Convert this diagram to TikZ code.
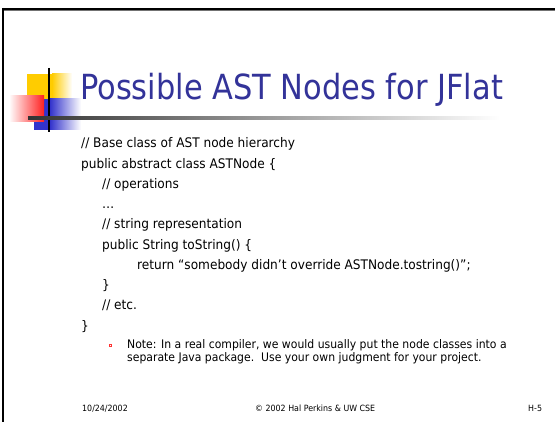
\documentclass[tikz,border=0pt]{standalone}
\usepackage{fontspec}
\setmainfont{DejaVu Sans}
\newfontfamily\tah[FakeStretch=0.92]{DejaVu Sans}
\newfontfamily\tahT[FakeStretch=0.88]{DejaVu Sans}
\definecolor{ttlblue}{HTML}{333399}
\definecolor{logoyellow}{HTML}{FFCC00}
\definecolor{logoblue}{HTML}{3333CC}
\definecolor{logored}{HTML}{FF2020}
\tikzset{
  code/.style={anchor=base west, inner sep=0pt, font=\tah\fontsize{13.2}{15}\selectfont, text=black},
  note/.style={anchor=base west, inner sep=0pt, font=\tah\fontsize{11.8}{13}\selectfont, text=black},
  foot/.style={anchor=base west, inner sep=0pt, font=\tah\fontsize{8.6}{10}\selectfont, text=black},
}
\begin{document}
\begin{tikzpicture}[x=1pt,y=-1pt]
\useasboundingbox (0,0) rectangle (555,422);
\fill[white] (0,0) rectangle (555,422);
% frame
\draw[black!55, line width=1pt] (4,10.8) -- (555,10.8);
\draw[black, line width=2.2pt] (3,9) -- (555,9);
\draw[black, line width=2.2pt] (3,8) -- (3,422);
% logo
\fill[logoyellow] (27,74) rectangle (52,100);
\shade[left color=logoyellow, right color=white] (52,74) rectangle (72,100);
\fill[logoblue] (34,99) rectangle (50,130);
\shade[left color=logoblue, right color=white] (50,99) rectangle (81,130);
\shade[left color=white, right color=logored] (9,96) rectangle (44,122);
\draw[black, line width=2pt] (49,68) -- (49,132);
\shade[left color=black!80, right color=white] (28,116.5) rectangle (500,119.5);
% title
\node[anchor=base west, inner sep=0pt, text=ttlblue, font=\tahT\fontsize{34.6}{38}\selectfont] (title) at (80,100) {Possible AST Nodes for JFlat};
% code
\node[code] (l1) at (81,148) {// Base class of AST node hierarchy};
\node[code] (l2) at (81,168.25) {public abstract class ASTNode \{};
\node[code] (l3) at (102,188.5) {// operations};
\node[code] (l4) at (102,208.75) {\dots};
\node[code] (l5) at (102,229) {// string representation};
\node[code] (l6) at (102,249.25) {public String toString() \{};
\node[code] (l7) at (137,269.5) {return “somebody didn’t override ASTNode.tostring()”;};
\node[code] (l8) at (102,289.75) {\}};
\node[code] (l9) at (102,310) {// etc.};
\node[code] (l10) at (81,330.25) {\}};
% note
\draw[red!80, line width=0.5pt] (109,344.5) rectangle (111.5,346.5);
\node[note] (n1) at (127,349) {Note: In a real compiler, we would usually put the node classes into a};
\node[note] (n2) at (127,362) {separate Java package.\ \ Use your own judgment for your project.};
% footer
\node[foot] (f1) at (82,412) {10/24/2002};
\node[foot] (f2) at (255,412) {© 2002 Hal Perkins \& UW CSE};
\node[foot] (f3) at (528,412) {H-5};
\end{tikzpicture}
\end{document}
